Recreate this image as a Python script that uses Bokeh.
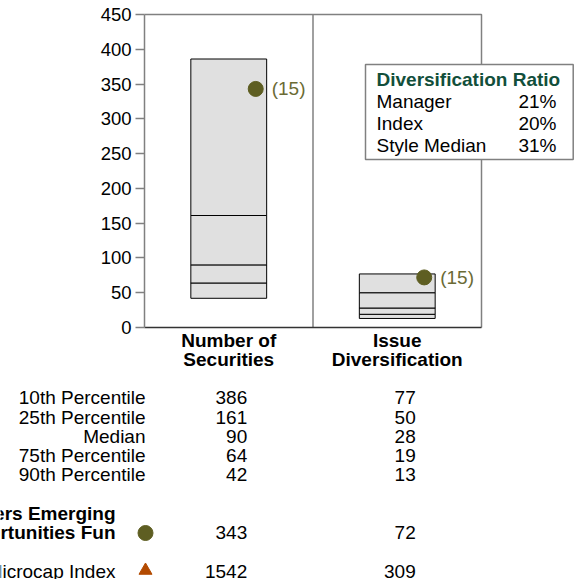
from bokeh.plotting import figure
from bokeh.models import Range1d, FixedTicker, Label, ColumnDataSource, LinearAxis
from bokeh.core.properties import value
from bokeh.embed import file_html
from bokeh.resources import INLINE

# ---------------- data ----------------
categories = ["Number of\nSecurities", "Issue\nDiversification"]
percentile_labels = ["10th Percentile", "25th Percentile", "Median", "75th Percentile", "90th Percentile"]
p10 = [386, 77]
p25 = [161, 50]
median = [90, 28]
p75 = [64, 19]
p90 = [42, 13]
fund_name = "Managers Emerging\nOpportunities Fun"
fund_values = [343, 72]
fund_ranks = ["(15)", "(15)"]
index_name = "Russell Microcap Index"
index_values = [1542, 309]
div_title = "Diversification Ratio"
div_labels = ["Manager", "Index", "Style Median"]
div_values = ["21%", "20%", "31%"]
y_ticks = [0, 50, 100, 150, 200, 250, 300, 350, 400, 450]
y_max = 450

# ---------------- style / layout ----------------
FONT = "Liberation Sans"
FS = "19px"
OLIVE = "#5e5e22"
OLIVE_TXT = "#6b6b35"
GREEN = "#124f3b"
ORANGE = "#b34a00"
GRAY = "#808080"
BOX_FILL = "#e0e0e0"

W, H = 582, 579
X0_PX, X_CAT_PX = 144, 168.5      # page x of chart left edge, px per category
Y0_PX, Y_TOP_PX = 327, 14         # page y of value 0 and of value y_max


def fx(px):
    return (px - X0_PX) / X_CAT_PX


def fy(py):
    return (Y0_PX - py) * y_max / (Y0_PX - Y_TOP_PX)


p = figure(x_range=Range1d(fx(0), fx(W)), y_range=Range1d(fy(H), fy(0)),
           width=W, height=H, output_backend="svg", toolbar_location=None,
           min_border=0, x_axis_location=None, y_axis_location=None)
p.background_fill_color = "white"
p.border_fill_color = "white"
p.outline_line_color = None
p.xgrid.visible = False
p.ygrid.visible = False

ncat = len(categories)
centers = [i + 0.5 for i in range(ncat)]

# y axis drawn at x = 0 inside the canvas
yax = LinearAxis(fixed_location=0, bounds=(0, y_max), ticker=FixedTicker(ticks=y_ticks))
yax.minor_tick_line_color = None
yax.axis_line_color = GRAY
yax.axis_line_width = 1.5
yax.major_tick_line_color = GRAY
yax.major_tick_line_width = 1.5
yax.major_tick_out = 9
yax.major_tick_in = 0
yax.major_label_standoff = 4
yax.major_label_text_font = FONT
yax.major_label_text_font_size = "18.5px"
yax.major_label_text_color = "black"
p.add_layout(yax, "left")

# category axis drawn at y = 0
xax = LinearAxis(fixed_location=0, bounds=(0, ncat), ticker=FixedTicker(ticks=centers),
                 major_label_overrides={c: lab for c, lab in zip(centers, categories)})
xax.axis_line_color = "#333333"
xax.axis_line_width = 1.5
xax.major_tick_line_color = None
xax.minor_tick_line_color = None
xax.major_tick_out = 0
xax.major_tick_in = 0
xax.minor_tick_out = 0
xax.major_label_standoff = 2
xax.major_label_text_font = FONT
xax.major_label_text_font_size = FS
xax.major_label_text_font_style = "bold"
xax.major_label_text_color = "black"
xax.major_label_text_line_height = 0.95
p.add_layout(xax, "below")

# frame lines: top, right and the separator between categories
p.multi_line(xs=[[0, ncat, ncat], [1, 1]], ys=[[y_max, y_max, 0], [0, y_max]],
             line_color=GRAY, line_width=1.5)

# percentile boxes (bands between successive percentiles)
bx, bb, bt = [], [], []
for i in range(ncat):
    edges = [p90[i], p75[i], median[i], p25[i], p10[i]]
    for lo, hi in zip(edges[:-1], edges[1:]):
        bx.append(centers[i])
        bb.append(lo)
        bt.append(hi)
p.vbar(x="x", width=0.45, bottom="b", top="t",
       source=ColumnDataSource(dict(x=bx, b=bb, t=bt)),
       fill_color=BOX_FILL, line_color="black", line_width=1)

fund_src = ColumnDataSource(dict(x=[c + 0.16 for c in centers], y=fund_values, r=fund_ranks))
p.scatter(x="x", y="y", source=fund_src, marker="circle", size=15,
          fill_color=OLIVE, line_color=OLIVE)
p.text(x="x", y="y", text="r", source=fund_src, x_offset=16,
       text_baseline="middle", text_align="left",
       text_font=value(FONT), text_font_size=FS, text_color=OLIVE_TXT)

# Diversification ratio inset (box anchored at its top-left corner)
p.add_layout(Label(x=fx(365), y=fy(64), text=div_title, text_font=FONT, text_font_size=FS,
                   text_font_style="bold", text_color=GREEN, text_align="left",
                   text_baseline="top", background_fill_color="white",
                   border_line_color=GRAY, border_line_width=1.5,
                   padding=dict(left=11, right=13, top=4, bottom=70)))
for k, (lab, val) in enumerate(zip(div_labels, div_values)):
    yy = fy(101 + 22 * k)
    p.add_layout(Label(x=fx(376), y=yy, text=lab, text_font=FONT, text_font_size=FS,
                       text_color="black", text_align="left", text_baseline="middle"))
    p.add_layout(Label(x=fx(556), y=yy, text=val, text_font=FONT, text_font_size=FS,
                       text_color="black", text_align="right", text_baseline="middle"))

# ---------------- table below the chart ----------------
txt = dict(text_font=value(FONT), text_font_size=FS, text_color="black", text_baseline="middle")
row_y = [fy(v) for v in (397, 416.5, 435.5, 454.5, 474)]
col_x = [c + 18.5 / X_CAT_PX for c in centers]

p.text(x=[fx(145)] * len(percentile_labels), y=row_y, text=percentile_labels,
       text_align="right", **txt)
for i in range(ncat):
    vals = [p10[i], p25[i], median[i], p75[i], p90[i]]
    p.text(x=[col_x[i]] * len(vals), y=row_y, text=[str(v) for v in vals],
           text_align="right", **txt)

# fund row
p.text(x=[fx(115)], y=[fy(522.5)], text=[fund_name], text_align="right",
       text_font_style="bold", text_line_height=0.95, **txt)
p.scatter(x=[fx(145)], y=[fy(532.5)], marker="circle", size=15, fill_color=OLIVE, line_color=OLIVE)
p.text(x=col_x, y=[fy(532)] * ncat, text=[str(v) for v in fund_values], text_align="right", **txt)

# index row
p.text(x=[fx(115)], y=[fy(571)], text=[index_name], text_align="right", **txt)
p.scatter(x=[fx(145)], y=[fy(570)], marker="triangle", size=13, fill_color=ORANGE, line_color=ORANGE)
p.text(x=col_x, y=[fy(571)] * ncat, text=[str(v) for v in index_values], text_align="right", **txt)

open("out.html", "w").write(file_html(p, INLINE))
